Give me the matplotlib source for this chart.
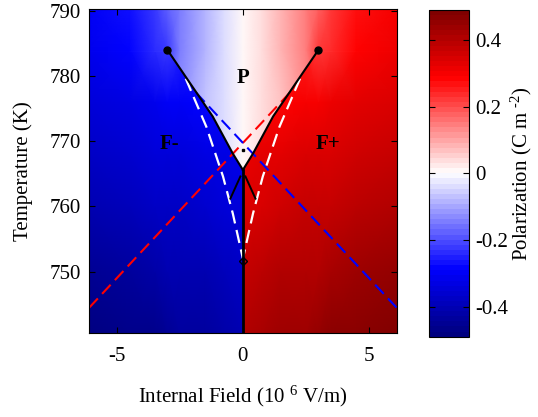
import numpy as np
import matplotlib
matplotlib.use('Agg')
import matplotlib.pyplot as plt
from matplotlib.colors import LinearSegmentedColormap
from matplotlib.patches import Polygon

plt.rcParams['font.family'] = 'Liberation Serif'
plt.rcParams['mathtext.fontset'] = 'custom'
plt.rcParams['mathtext.rm'] = 'Liberation Serif'
plt.rcParams['mathtext.it'] = 'Liberation Serif:italic'
plt.rcParams['axes.unicode_minus'] = False

# --- data (left half, field in 10^6 V/m, temperature in K, P in C/m^2) ---
field_cols = [-6.2, -4.5, -3.5, -3.0, -2.5, -1.5, -0.75, 0.0]

# ferroelectric (F-) branch
ferro_temps = [740, 750, 760, 768, 776, 784]
ferro_pol = [
    [-0.48, -0.47, -0.46, -0.45, -0.44, -0.43, -0.42, -0.41],
    [-0.45, -0.43, -0.42, -0.41, -0.41, -0.40, -0.39, -0.38],
    [-0.41, -0.39, -0.38, -0.38, -0.37, -0.36, -0.35, -0.35],
    [-0.38, -0.36, -0.35, -0.34, -0.34, -0.33, -0.33, -0.32],
    [-0.35, -0.33, -0.31, -0.30, -0.30, -0.29, -0.28, -0.28],
    [-0.31, -0.28, -0.23, -0.22, -0.26, -0.25, -0.24, -0.23],
]

# paraelectric (P) branch / supercritical region
para_temps = [764, 770, 777, 784, 791]
para_pol = [
    [-0.30, -0.22, -0.17, -0.14, -0.12, -0.07, -0.035, 0.0],
    [-0.30, -0.22, -0.17, -0.14, -0.12, -0.07, -0.035, 0.0],
    [-0.30, -0.24, -0.19, -0.16, -0.13, -0.075, -0.04, 0.0],
    [-0.31, -0.28, -0.23, -0.22, -0.15, -0.085, -0.045, 0.0],
    [-0.30, -0.27, -0.22, -0.17, -0.14, -0.085, -0.045, 0.0],
]

# first-order phase boundary (left branch), ends at critical point
boundary_E = [-3.0, -2.1, -1.2, -0.4, 0.0]
boundary_T = [784.0, 778.9, 773.8, 768.1, 765.6]
# stability limit (white dashed, left branch)
limit_E = [-2.27, -1.45, -0.79, -0.4, 0.0]
limit_T = [779.6, 772.2, 764.6, 758.9, 752.0]
# short black dashed branch below the triple point
inner_E = [-0.1, -0.5]
inner_T = [764.6, 761.2]
# red / blue dashed lines
red_E = [-6.1, 1.9]
red_T = [744.5, 777.6]
blue_E = [6.1, -1.9]
blue_T = [744.5, 777.6]
# special points
crit_E = [-3.0, 3.0]
crit_T = [784.0, 784.0]
dot_E, dot_T = 0.0, 768.6
diamond_E, diamond_T = 0.0, 751.7
line_bottom_T = 740.6

x_lim = (-6.1, 6.1)
y_lim = (740.6, 790.2)
p_lim = 0.49

cmap = LinearSegmentedColormap.from_list(
    'pol', [(0.0, (0, 0, 0.5)), (0.204, (0, 0, 1)), (0.5, (1, 1, 1)),
            (0.796, (1, 0, 0)), (1.0, (0.5, 0, 0))], N=64)

fig = plt.figure(figsize=(5.38, 4.17), dpi=100)
ax = fig.add_axes([0.166, 0.2014, 0.571, 0.776])
cax = fig.add_axes([0.798, 0.1926, 0.0743, 0.7835])

E_left = np.array(field_cols)
E_right = -E_left[::-1]
E_full = np.concatenate([E_left, E_right[1:]])
F_left = np.array(ferro_pol)
F_right = -F_left[:, ::-1]
P_half = np.array(para_pol)
P_full = np.hstack([P_half, -P_half[:, ::-1][:, 1:]])

bE = np.array(boundary_E)
bT = np.array(boundary_T)
left_curve = list(zip(bE, bT))
right_curve = list(zip(-bE[::-1], bT[::-1]))

# clip regions
left_poly = [(-6.3, 739), (0, 739)] + left_curve[::-1] + [(-6.3, 784.0)]
right_poly = [(6.3, 739), (0, 739)] + [(-e, t) for e, t in left_curve[::-1]] + [(6.3, 784.0)]
top_poly = ([(-6.3, 783.7), (-3.0, 783.7)] + left_curve + right_curve[1:] +
            [(3.0, 783.7), (6.3, 783.7), (6.3, 792), (-6.3, 792)])

meshes = [
    (E_left, ferro_temps, F_left, left_poly),
    (E_right, ferro_temps, F_right, right_poly),
    (E_full, para_temps, P_full, top_poly),
]
for ex, ty, cc, poly in meshes:
    X, Y = np.meshgrid(ex, ty)
    m = ax.pcolormesh(X, Y, cc, shading='gouraud', cmap=cmap,
                      vmin=-p_lim, vmax=p_lim, zorder=1)
    patch = Polygon(poly, closed=True, transform=ax.transData)
    m.set_clip_path(patch)

# dashed lines
ax.plot(red_E, red_T, color='red', lw=1.5, dashes=(6, 3), zorder=2)
ax.plot(blue_E, blue_T, color='blue', lw=1.5, dashes=(6, 3), zorder=2)
for s in (1, -1):
    ax.plot(s * np.array(limit_E), limit_T, color='white', lw=1.6,
            dashes=(6, 3), zorder=3)
    ax.plot(s * np.array(inner_E), inner_T, color='black', lw=1.4, zorder=3)
    ax.plot(s * bE, bT, color='black', lw=1.5, zorder=4)
ax.plot([0, 0], [line_bottom_T, boundary_T[-1]], color='black', lw=2, zorder=4)
ax.plot(crit_E, crit_T, 'o', color='black', ms=5, zorder=5)
ax.plot(dot_E, dot_T, 's', color='black', ms=1.5, zorder=5)
ax.plot(diamond_E, diamond_T, 'D', mfc='none', mec='black', ms=4, mew=1, zorder=5)

# phase labels
ax.text(0, 779.7, 'P', ha='center', va='center', fontsize=15, fontweight='bold')
ax.text(-2.92, 769.6, 'F-', ha='center', va='center', fontsize=15, fontweight='bold')
ax.text(3.36, 769.6, 'F+', ha='center', va='center', fontsize=15, fontweight='bold')

ax.set_xlim(x_lim)
ax.set_ylim(y_lim)
ax.set_xticks([-5, 0, 5])
ax.set_yticks([750, 760, 770, 780, 790])
ax.tick_params(direction='in', top=True, right=True, length=4, labelsize=15)
ax.tick_params(axis='x', pad=10)
ax.tick_params(axis='y', pad=6)
ax.set_xlabel('Internal Field (10 $^{6}$ V/m)', fontsize=15, labelpad=13)
ax.set_ylabel('Temperature (K)', fontsize=15, labelpad=12)
for sp in ax.spines.values():
    sp.set_linewidth(0.8)

sm = plt.cm.ScalarMappable(cmap=cmap, norm=plt.Normalize(-p_lim, p_lim))
cb = fig.colorbar(sm, cax=cax, ticks=[-0.4, -0.2, 0, 0.2, 0.4])
cb.ax.set_yticklabels(['-0.4', '-0.2', '0', '0.2', '0.4'])
cb.ax.tick_params(direction='in', left=True, right=True, length=4, labelsize=15, pad=4)
cb.outline.set_linewidth(0.8)
cb.set_label('Polarization (C m $^{\u2010 2}$)', fontsize=15, labelpad=1)

fig.savefig('out.png', dpi=100)
